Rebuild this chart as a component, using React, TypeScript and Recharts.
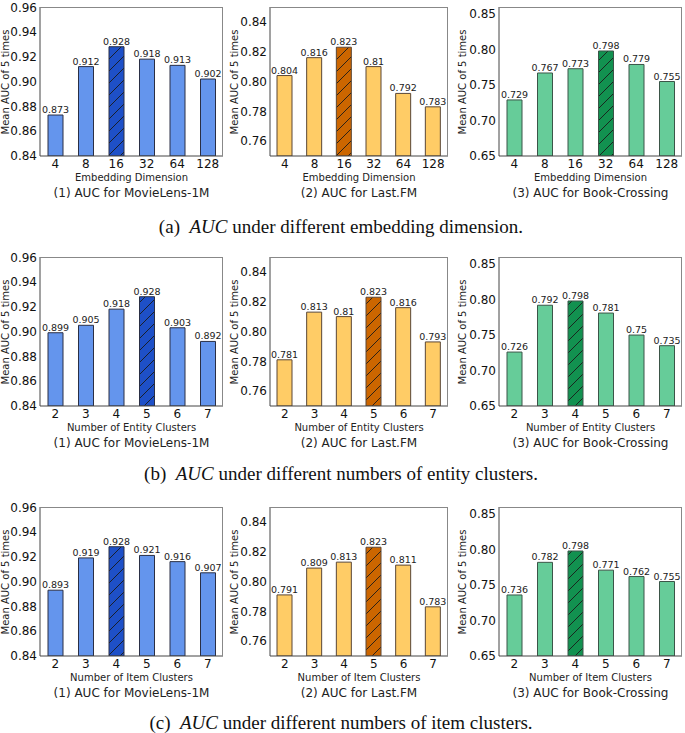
import React from "react";
import { Bar, BarChart, Cell, LabelList, XAxis, YAxis } from "recharts";

// categories
const embedDims = ["4", "8", "16", "32", "64", "128"];
const entityClusters = ["2", "3", "4", "5", "6", "7"];
const itemClusters = ["2", "3", "4", "5", "6", "7"];

// (a) embedding dimension
const mlEmbed = [0.873, 0.912, 0.928, 0.918, 0.913, 0.902];
const fmEmbed = [0.804, 0.816, 0.823, 0.81, 0.792, 0.783];
const bxEmbed = [0.729, 0.767, 0.773, 0.798, 0.779, 0.755];

// (b) entity clusters
const mlEntity = [0.899, 0.905, 0.918, 0.928, 0.903, 0.892];
const fmEntity = [0.781, 0.813, 0.81, 0.823, 0.816, 0.793];
const bxEntity = [0.726, 0.792, 0.798, 0.781, 0.75, 0.735];

// (c) item clusters
const mlItem = [0.893, 0.919, 0.928, 0.921, 0.916, 0.907];
const fmItem = [0.791, 0.809, 0.813, 0.823, 0.811, 0.783];
const bxItem = [0.736, 0.782, 0.798, 0.771, 0.762, 0.755];

// y ticks
const mlTicks = [0.84, 0.86, 0.88, 0.9, 0.92, 0.94, 0.96];
const fmTicks = [0.76, 0.78, 0.8, 0.82, 0.84];
const bxTicks = [0.65, 0.7, 0.75, 0.8, 0.85];

const SANS = "'DejaVu Sans', sans-serif";
const ROW = 250;
const BOX_H = 149;

type Style = { light: string; dark: string; edge: string };
const blue: Style = { light: "#6495ED", dark: "#1E50C8", edge: "#2a2f45" };
const orange: Style = { light: "#FFCC66", dark: "#CC6600", edge: "#5a4636" };
const green: Style = { light: "#66CC99", dark: "#129150", edge: "#3b5548" };

type PanelProps = {
  id: string;
  left: number;
  top: number;
  yWidth: number;
  plotW: number;
  right: number;
  cats: string[];
  vals: number[];
  domain: [number, number];
  ticks: number[];
  style: Style;
  xLabel: string;
  title: string;
  yLabelX: number;
};

function Panel(p: PanelProps) {
  const data = p.cats.map((c, i) => ({ c, v: p.vals[i] }));
  const best = p.vals.indexOf(Math.max(...p.vals));
  const width = p.yWidth + p.plotW + p.right;
  const boxLeft = p.left + p.yWidth;
  const cx = boxLeft + p.plotW / 2;
  const hatch = `hatch-${p.id}`;
  return (
    <>
      <div style={{ position: "absolute", left: p.left, top: p.top }}>
        <BarChart width={width} height={7 + BOX_H + 22} data={data} margin={{ top: 7, right: p.right, bottom: 0, left: 0 }} barSize={15}>
          <defs>
            <pattern id={hatch} patternUnits="userSpaceOnUse" width="12" height="12">
              <rect width="12" height="12" fill={p.style.dark} />
              <path d="M0,12 L12,0 M-3,3 L3,-3 M9,15 L15,9" stroke="#1a1a1a" strokeWidth="0.9" />
            </pattern>
          </defs>
          <XAxis dataKey="c" height={22} tickLine={false} tickSize={0} tickMargin={3} interval={0} axisLine={{ stroke: "#444" }} tick={{ fill: "#111", fontSize: 12, fontFamily: SANS }} />
          <YAxis
            type="number"
            domain={p.domain}
            ticks={p.ticks}
            allowDataOverflow
            width={p.yWidth}
            tickLine={false}
            tickSize={0}
            tickMargin={3}
            axisLine={{ stroke: "#444" }}
            tickFormatter={(v: number) => v.toFixed(2)}
            tick={{ fill: "#111", fontSize: 12, fontFamily: SANS }}
          />
          <Bar dataKey="v" isAnimationActive={false} stroke={p.style.edge} strokeWidth={1}>
            {data.map((d, i) => (
              <Cell key={i} fill={i === best ? `url(#${hatch})` : p.style.light} />
            ))}
            <LabelList dataKey="v" position="top" offset={2} fill="#222" fontSize={9.5} fontFamily={SANS} formatter={(v: number) => String(v)} />
          </Bar>
        </BarChart>
      </div>
      {/* axes frame: top and right spines */}
      <div
        style={{
          position: "absolute",
          left: boxLeft,
          top: p.top + 7,
          width: p.plotW,
          height: BOX_H,
          borderTop: "1px solid #888",
          borderRight: "1px solid #888",
          boxSizing: "border-box",
          pointerEvents: "none",
        }}
      />
      <div
        style={{
          position: "absolute",
          left: p.yLabelX,
          top: p.top + 7 + BOX_H / 2,
          transform: "translate(-50%, -50%) rotate(-90deg)",
          whiteSpace: "nowrap",
          fontFamily: SANS,
          fontSize: 10,
          color: "#222",
        }}
      >
        Mean AUC of 5 times
      </div>
      <div style={{ position: "absolute", left: cx, top: p.top + 177, transform: "translate(-50%, -50%)", whiteSpace: "nowrap", fontFamily: SANS, fontSize: 10, color: "#222" }}>
        {p.xLabel}
      </div>
      <div style={{ position: "absolute", left: cx, top: p.top + 193, transform: "translate(-50%, -50%)", whiteSpace: "nowrap", fontFamily: SANS, fontSize: 12, color: "#222" }}>
        {p.title}
      </div>
    </>
  );
}

function Caption({ top, tag, text }: { top: number; tag: string; text: string }) {
  return (
    <div
      style={{
        position: "absolute",
        left: 341,
        top,
        transform: "translate(-50%, -50%)",
        whiteSpace: "nowrap",
        fontFamily: "'Liberation Serif', serif",
        fontSize: 19,
        color: "#111",
      }}
    >
      {tag}&nbsp;&nbsp;<i>AUC</i> {text}
    </div>
  );
}

const rows = [
  { cats: embedDims, ml: mlEmbed, fm: fmEmbed, bx: bxEmbed, xLabel: "Embedding Dimension", tag: "(a)", cap: "under different embedding dimension.", capY: 227 },
  { cats: entityClusters, ml: mlEntity, fm: fmEntity, bx: bxEntity, xLabel: "Number of Entity Clusters", tag: "(b)", cap: "under different numbers of entity clusters.", capY: 474 },
  { cats: itemClusters, ml: mlItem, fm: fmItem, bx: bxItem, xLabel: "Number of Item Clusters", tag: "(c)", cap: "under different numbers of item clusters.", capY: 723 },
];

export default function App() {
  return (
    <div style={{ position: "absolute", left: 0, top: 0, width: 685, height: 733, background: "#fff", overflow: "hidden" }}>
      {rows.map((r, k) => {
        const top = k * ROW;
        return (
          <React.Fragment key={k}>
            <Panel id={`ml${k}`} left={0} top={top} yWidth={40} plotW={183} right={5} cats={r.cats} vals={r.ml} domain={[0.84, 0.96]} ticks={mlTicks} style={blue} xLabel={r.xLabel} title="(1) AUC for MovieLens-1M" yLabelX={5} />
            <Panel id={`fm${k}`} left={228} top={top} yWidth={42} plotW={178} right={5} cats={r.cats} vals={r.fm} domain={[0.75, 0.85]} ticks={fmTicks} style={orange} xLabel={r.xLabel} title="(2) AUC for Last.FM" yLabelX={234} />
            <Panel id={`bx${k}`} left={455} top={top} yWidth={44} plotW={183} right={3} cats={r.cats} vals={r.bx} domain={[0.65, 0.86]} ticks={bxTicks} style={green} xLabel={r.xLabel} title="(3) AUC for Book-Crossing" yLabelX={462} />
            <Caption top={r.capY} tag={r.tag} text={r.cap} />
          </React.Fragment>
        );
      })}
    </div>
  );
}
